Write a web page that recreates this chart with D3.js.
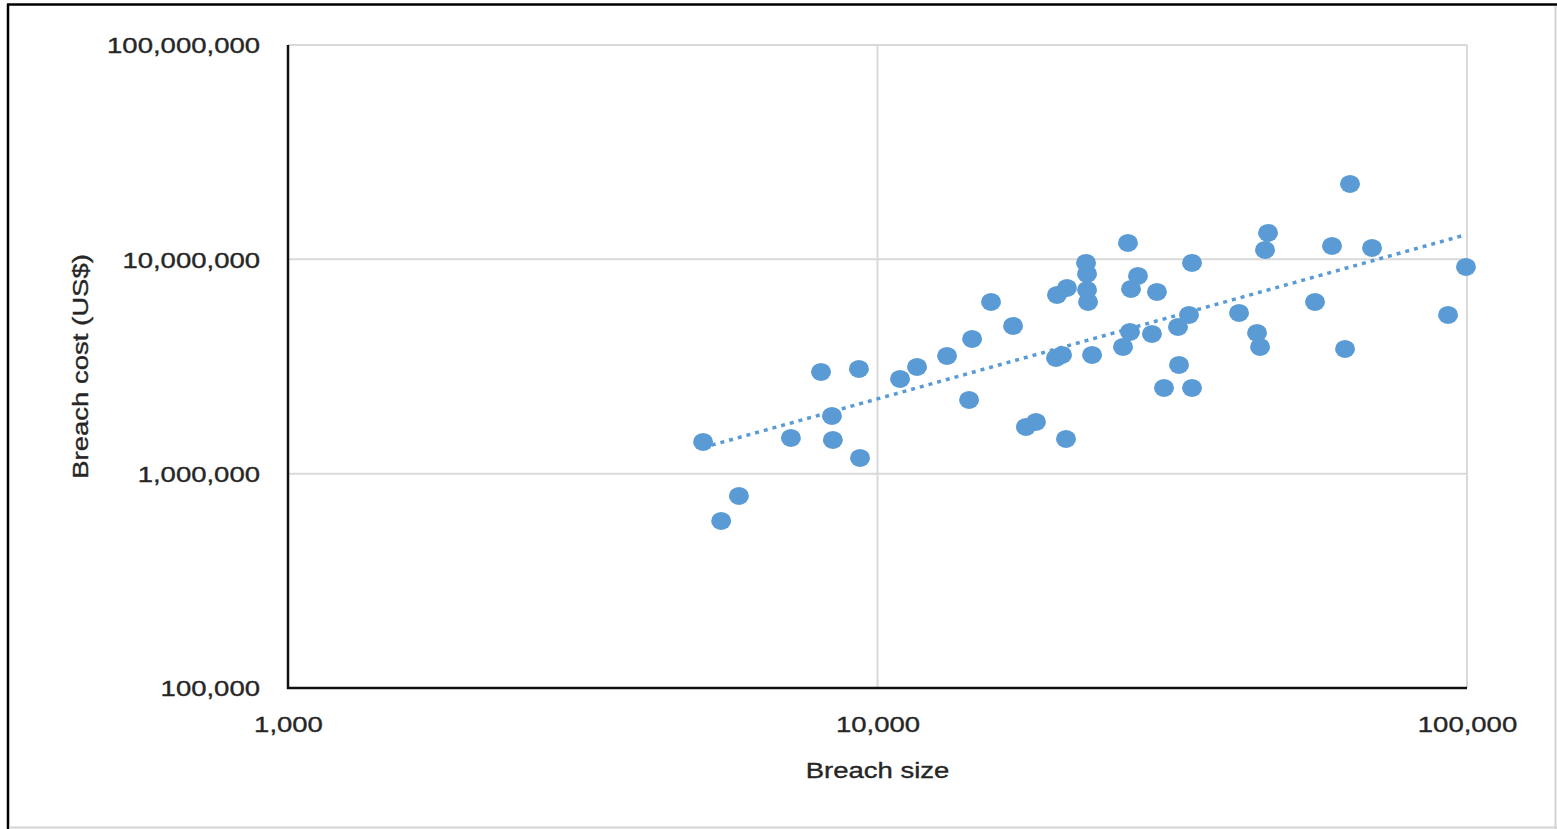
<!DOCTYPE html>
<html>
<head>
<meta charset="utf-8">
<script src="https://cdn.jsdelivr.net/npm/d3@7"></script>
<style>
  html, body { margin: 0; padding: 0; background: #fff; }
  svg { display: block; }
  text { font-family: "Liberation Sans", Arial, sans-serif; fill: #262626; stroke: #262626; stroke-width: 0.35; }
</style>
</head>
<body>
<svg id="chart" width="1557" height="829"></svg>
<script>
// Breach size (records) and breach cost (US$), one entry per breach
const breachSize = [
  5060, 5430, 5820, 7130, 8020, 8370, 8400, 9300, 9340, 10920,
  11670, 13120, 14300, 14470, 15580, 16980, 17860, 18570, 20160, 20960,
  20080, 20560, 20880, 22580, 22670, 22670, 22760, 23120, 26090, 26600,
  26810, 26920, 27660, 29210, 29790, 30620, 32340, 32470, 33760, 34160,
  34160, 41050, 44040, 44560, 45430, 45970, 55230, 59020, 62100, 63320,
  69010, 92860, 99600
];
const breachCost = [
  1406000, 601600, 787000, 1468000, 2983000, 1859000, 1436000, 3080000, 1184000, 2766000,
  3147000, 3542000, 2208000, 4252000, 6328000, 4891000, 1652000, 1743000, 6821000, 7355000,
  3467000, 3580000, 1452000, 9620000, 8550000, 7198000, 6328000, 3580000, 3901000, 11930000,
  4584000, 7276000, 8366000, 4487000, 7045000, 2511000, 4838000, 3215000, 5503000, 9620000,
  2511000, 5622000, 4535000, 3901000, 11060000, 13280000, 6328000, 11550000, 3819000, 22480000,
  11300000, 5503000, 9215000
];

// Tick values on both log axes
const xTicks = [1000, 10000, 100000];
const yTicks = [100000, 1000000, 10000000, 100000000];

const xTitle = "Breach size";
const yTitle = "Breach cost (US$)";

const svg = d3.select("#chart");
const W = 1557, H = 829;
const blue = "#5B9BD5";
const stretch = 1.25;           // horizontal text widening
const fmt = d3.format(",");

const x = d3.scaleLog().domain([1000, 100000]).range([288, 1467]);
const y = d3.scaleLog().domain([100000, 100000000]).range([688, 45]);

// outer frame: dark top/left edges, light right/bottom edges
svg.append("line").attr("x1", 7).attr("x2", W).attr("y1", 4.5).attr("y2", 4.5)
  .attr("stroke", "#000").attr("stroke-width", 2.5);
svg.append("line").attr("x1", 8).attr("x2", 8).attr("y1", 4).attr("y2", H)
  .attr("stroke", "#000").attr("stroke-width", 2.5);
svg.append("line").attr("x1", W - 1.5).attr("x2", W - 1.5).attr("y1", 6).attr("y2", H)
  .attr("stroke", "#d4d4d4").attr("stroke-width", 2);
svg.append("line").attr("x1", 9).attr("x2", W).attr("y1", H - 1.5).attr("y2", H - 1.5)
  .attr("stroke", "#d4d4d4").attr("stroke-width", 2);

// gridlines
const grid = svg.append("g").attr("stroke", "#d9d9d9").attr("stroke-width", 2);
grid.selectAll("line.h").data(yTicks.slice(1)).join("line").attr("class", "h")
  .attr("x1", x.range()[0]).attr("x2", x.range()[1])
  .attr("y1", d => y(d)).attr("y2", d => y(d));
grid.selectAll("line.v").data(xTicks.slice(1)).join("line").attr("class", "v")
  .attr("y1", y.range()[0]).attr("y2", y.range()[1])
  .attr("x1", d => x(d)).attr("x2", d => x(d));

// axes (labels only; axis lines drawn separately)
const xAxis = svg.append("g").attr("transform", `translate(0,${y.range()[0]})`)
  .call(d3.axisBottom(x).tickValues(xTicks).tickFormat(fmt).tickSize(0).tickPadding(28));
const yAxis = svg.append("g").attr("transform", `translate(${x.range()[0]},0)`)
  .call(d3.axisLeft(y).tickValues(yTicks).tickFormat(fmt).tickSize(0).tickPadding(28));
[xAxis, yAxis].forEach(a => {
  a.select(".domain").remove();
  a.selectAll("text").attr("font-size", 22).attr("fill", "#262626")
    .style("font-family", "'Liberation Sans', Arial, sans-serif");
});
xAxis.selectAll("text").attr("dy", "0.35em").attr("y", 36);
yAxis.selectAll("text").attr("dy", "0.35em");

svg.append("line").attr("x1", x.range()[0]).attr("x2", x.range()[0])
  .attr("y1", y.range()[1]).attr("y2", y.range()[0] + 1)
  .attr("stroke", "#111").attr("stroke-width", 2.5);
svg.append("line").attr("x1", x.range()[0] - 1).attr("x2", x.range()[1])
  .attr("y1", y.range()[0]).attr("y2", y.range()[0])
  .attr("stroke", "#111").attr("stroke-width", 2.5);

// axis titles
svg.append("text").attr("class", "title")
  .attr("x", (x.range()[0] + x.range()[1]) / 2).attr("y", 770)
  .attr("text-anchor", "middle").attr("dy", "0.35em").attr("font-size", 22)
  .text(xTitle);
svg.append("text").attr("class", "title")
  .attr("transform", `translate(80,${(y.range()[0] + y.range()[1]) / 2}) rotate(-90)`)
  .attr("text-anchor", "middle").attr("dy", "0.35em").attr("font-size", 22)
  .text(yTitle);

// widen glyphs to the chart's proportions
svg.selectAll("text").each(function () {
  const len = this.getComputedTextLength();
  d3.select(this).attr("textLength", len * stretch).attr("lengthAdjust", "spacingAndGlyphs");
});

// power trendline: least squares fit in log-log space
const lx = breachSize.map(Math.log10), ly = breachCost.map(Math.log10);
const mx = d3.mean(lx), my = d3.mean(ly);
const slope = d3.sum(lx, (v, i) => (v - mx) * (ly[i] - my)) / d3.sum(lx, v => (v - mx) ** 2);
const icpt = my - slope * mx;
const fit = s => Math.pow(10, icpt + slope * Math.log10(s));
const [sMin, sMax] = d3.extent(breachSize);
svg.append("line")
  .attr("x1", x(sMin)).attr("y1", y(fit(sMin)))
  .attr("x2", x(sMax)).attr("y2", y(fit(sMax)))
  .attr("stroke", blue).attr("stroke-width", 3.5).attr("stroke-dasharray", "4 5");

// scatter points
svg.append("g").selectAll("ellipse")
  .data(breachSize.map((s, i) => ({ s, c: breachCost[i] })))
  .join("ellipse")
  .attr("cx", d => x(d.s)).attr("cy", d => y(d.c))
  .attr("rx", 10).attr("ry", 9)
  .attr("fill", blue);
</script>
</body>
</html>
